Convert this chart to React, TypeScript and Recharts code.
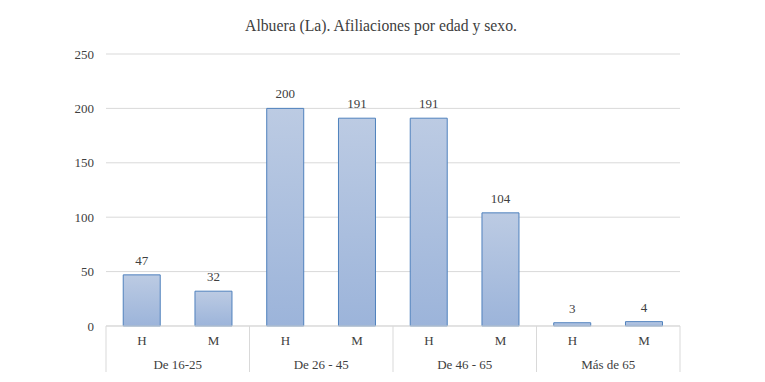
import React from 'react';
import { BarChart, Bar, XAxis, YAxis, CartesianGrid, LabelList } from 'recharts';

const categories = ['H', 'M', 'H', 'M', 'H', 'M', 'H', 'M'];
const groups = ['De 16-25', 'De 16-25', 'De 26 - 45', 'De 26 - 45', 'De 46 - 65', 'De 46 - 65', 'Más de 65', 'Más de 65'];
const values = [47, 32, 200, 191, 191, 104, 3, 4];
const yTicks = [0, 50, 100, 150, 200, 250];
const title = 'Albuera (La). Afiliaciones por edad y sexo.';

const data = categories.map((c, i) => ({ key: i, sex: c, group: groups[i], value: values[i] }));

const W = 765;
const H = 382;
const M = { top: 54, right: 85, left: 0, bottom: 8 };
const YW = 106;
const FONT = '"Liberation Serif", serif';
const band = (W - M.left - YW - M.right) / categories.length;

const SexTick = (props: any) => {
  const { x, y, payload } = props;
  return (
    <text x={x} y={y + 11} textAnchor="middle" fontFamily={FONT} fontSize={13} fill="#404040">
      {categories[payload.index ?? payload.value]}
    </text>
  );
};

const GroupTick = (props: any) => {
  const { x, y, index } = props;
  const i = index as number;
  const top = y - 32;
  const bottom = y + 14;
  return (
    <g>
      {i % 2 === 0 && (
        <line x1={x - band / 2} x2={x - band / 2} y1={top} y2={bottom} stroke="#d9d9d9" />
      )}
      {i === categories.length - 1 && (
        <line x1={x + band / 2} x2={x + band / 2} y1={top} y2={bottom} stroke="#d9d9d9" />
      )}
      {i % 2 === 0 && (
        <text x={x + band / 2} y={y + 11} textAnchor="middle" fontFamily={FONT} fontSize={13} fill="#404040">
          {groups[i]}
        </text>
      )}
    </g>
  );
};

export default function App() {
  return (
    <div style={{ position: 'absolute', left: 0, top: 0, width: W, height: H, background: '#fff' }}>
      <div
        style={{
          position: 'absolute',
          left: 0,
          top: 17,
          width: W - 3,
          textAlign: 'center',
          fontFamily: FONT,
          fontSize: 15.7,
          color: '#404040',
        }}
      >
        {title}
      </div>
      <BarChart width={W} height={H} data={data} margin={M} barCategoryGap="24%">
        <defs>
          <linearGradient id="barGrad" x1="0" y1="0" x2="0" y2="1">
            <stop offset="0%" stopColor="#bccbe3" />
            <stop offset="100%" stopColor="#9cb4da" />
          </linearGradient>
        </defs>
        <CartesianGrid vertical={false} stroke="#d9d9d9" />
        <XAxis
          xAxisId={0}
          dataKey="key"
          tickLine={false}
          axisLine={{ stroke: '#d9d9d9' }}
          height={24}
          interval={0}
          tick={<SexTick />}
        />
        <XAxis
          xAxisId="grp"
          dataKey="key"
          tickLine={false}
          axisLine={false}
          height={24}
          interval={0}
          tick={<GroupTick />}
        />
        <YAxis
          width={YW}
          domain={[0, 250]}
          ticks={yTicks}
          axisLine={false}
          tickLine={false}
          tickMargin={6}
          tick={{ fontFamily: FONT, fontSize: 13, fill: '#404040' }}
        />
        <Bar dataKey="value" fill="url(#barGrad)" stroke="#4f81bd" strokeWidth={1} isAnimationActive={false}>
          <LabelList dataKey="value" position="top" offset={10} style={{ fontFamily: FONT, fontSize: 13, fill: '#404040' }} />
        </Bar>
      </BarChart>
    </div>
  );
}
